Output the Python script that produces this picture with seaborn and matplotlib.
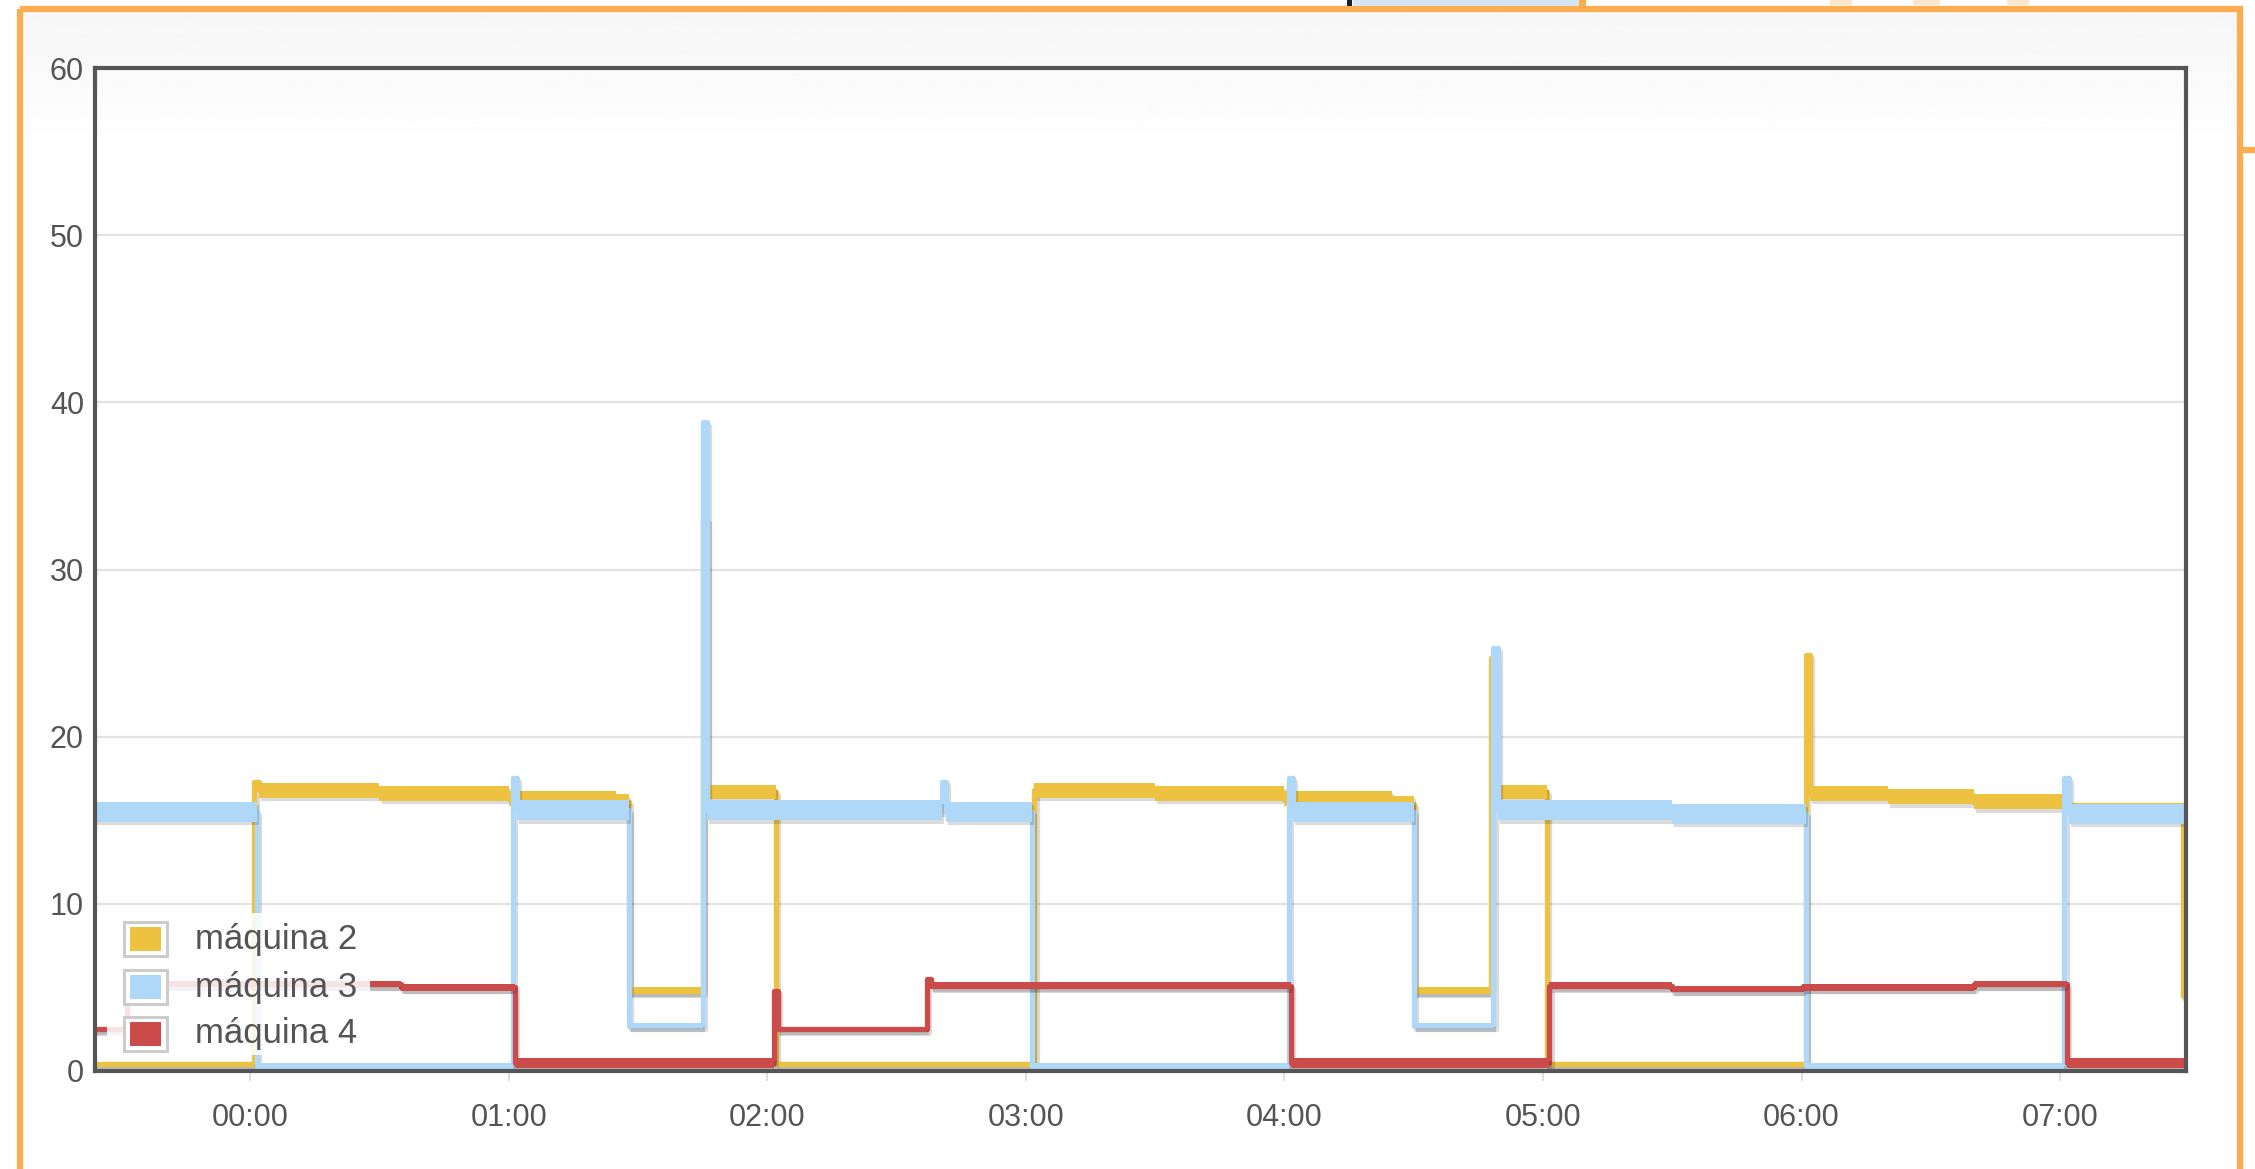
import numpy as np
import pandas as pd
import matplotlib
matplotlib.use("Agg")
import matplotlib.pyplot as plt
import matplotlib.patheffects as pe
from matplotlib.patches import Rectangle
from matplotlib.ticker import FixedLocator, FuncFormatter
import seaborn as sns

# time in minutes after midnight (negative = previous evening), step starts
m2_time = [-36, 1, 2, 30, 60, 85, 88, 105, 106, 122, 182, 210, 240, 265, 270,
           288, 289, 301, 361, 362, 380, 400, 421, 448.5, 449.5]
m2_value = [0.4, 17.3, 16.8, 16.6, 16.3, 16.1, 4.8, 33.0, 16.7, 0.4, 16.8, 16.6,
            16.3, 16.0, 4.8, 24.7, 16.7, 0.4, 24.9, 16.6, 16.4, 16.1, 15.9, 4.5, 4.5]
# height of the noise band around each level
m2_spread = [0.3, 0, 0.9, 0.9, 0.9, 0.9, 0.4, 0, 0.8, 0.3, 0.9, 0.9, 0.9, 0.9,
             0.4, 0, 0.8, 0.3, 0, 0.9, 0.9, 0.9, 0.3, 0, 0]

m3_time = [-36, 1.5, 61, 62, 88, 105, 106, 160.5, 161.5, 181.5, 241, 242, 270,
           288.5, 289.5, 330, 361, 421, 422, 449.5]
m3_value = [15.5, 0.3, 17.5, 15.6, 2.7, 38.8, 15.6, 17.3, 15.5, 0.3, 17.5, 15.5,
            2.7, 25.3, 15.6, 15.4, 0.3, 17.5, 15.4, 15.4]
m3_spread = [1.2, 0.4, 0, 1.2, 0.3, 0, 1.2, 0, 1.2, 0.4, 0, 1.2, 0.3, 0, 1.2,
             1.2, 0.4, 0, 1.2, 1.2]

m4_time = [-36, -28.5, 35, 61.5, 121.5, 122.5, 157, 158, 241.5, 301.5, 330, 360,
           400, 421.5, 449.5]
m4_value = [2.5, 5.2, 5.0, 0.5, 4.8, 2.5, 5.5, 5.1, 0.5, 5.1, 4.9, 5.0, 5.2, 0.5, 0.5]
m4_spread = [0.3, 0.4, 0.4, 0.6, 0, 0.3, 0, 0.4, 0.6, 0.4, 0.4, 0.4, 0.4, 0.6, 0.6]

names = ["máquina 2", "máquina 3", "máquina 4"]
colors = ["#edc240", "#afd8f8", "#cb4b4b"]
y_ticks = [0, 10, 20, 30, 40, 50, 60]
x_ticks = [0, 60, 120, 180, 240, 300, 360, 420]

series = [(m2_time, m2_value, m2_spread),
          (m3_time, m3_value, m3_spread),
          (m4_time, m4_value, m4_spread)]

frames = []
for name, (t, v, s) in zip(names, series):
    frames.append(pd.DataFrame({"minuto": t, "valor": v, "spread": s, "serie": name}))
df = pd.concat(frames, ignore_index=True)

sns.set_theme(style="white")
plt.rcParams["font.family"] = ["Liberation Sans", "DejaVu Sans"]
text_color = "#545454"

fig = plt.figure(figsize=(22.55, 11.69), dpi=100)

# page background: orange framed panel with a soft gray gradient at the top
bg = fig.add_axes([0, 0, 1, 1], zorder=-5)
bg.set_xlim(0, 2255)
bg.set_ylim(1169, 0)
bg.axis("off")
grad = np.linspace(0.965, 1.0, 64)[:, None]
bg.imshow(grad, extent=(20, 2240, 150, 9), cmap="gray", vmin=0, vmax=1,
          aspect="auto", interpolation="bilinear")
bg.add_patch(Rectangle((20, 9), 2220, 1300, fill=False, ec="#fbad50", lw=4.5))
bg.plot([2240, 2255], [150, 150], color="#fbad50", lw=4.5, solid_capstyle="butt")
bg.add_patch(Rectangle((1353, -5), 226, 11, fc="#d6e6f4", ec="none"))
bg.add_patch(Rectangle((1347, -5), 5, 11, fc="#18222e", ec="none"))
bg.add_patch(Rectangle((1579, -5), 7, 11, fc="#fbad50", ec="none"))
for x0, w in [(1830, 22), (1913, 27), (2007, 22)]:
    bg.add_patch(Rectangle((x0, -5), w, 10, fc="#fde6cc", ec="none"))

ax = fig.add_axes([95 / 2255, 1 - 1071 / 1169, 2091 / 2255, 1003 / 1169])
ax.set_facecolor("none")

shadow = [pe.SimpleLineShadow(offset=(1.5, -2.5), shadow_color="black", alpha=0.14),
          pe.Normal()]
band_shadow = [pe.SimplePatchShadow(offset=(1.5, -2.5), shadow_rgbFace="black",
                                    alpha=0.14), pe.Normal()]

sns.lineplot(data=df, x="minuto", y="valor", hue="serie", hue_order=names,
             palette=dict(zip(names, colors)), drawstyle="steps-post",
             estimator=None, sort=False, lw=3.8, legend=False, ax=ax,
             path_effects=shadow)
for i, line in enumerate(ax.lines):
    line.set_zorder(3 + i)

# noise band on top of each line, same colour
for i, (name, color) in enumerate(zip(names, colors)):
    d = df[df["serie"] == name]
    band = ax.fill_between(d["minuto"], d["valor"] - d["spread"] / 2,
                           d["valor"] + d["spread"] / 2, step="post",
                           color=color, lw=0, zorder=3.5 + i)
    band.set_path_effects(band_shadow)

ax.set_xlim(-36, 449.2)
ax.set_ylim(0, 60)
ax.set_xlabel("")
ax.set_ylabel("")

ax.yaxis.set_major_locator(FixedLocator(y_ticks))
ax.xaxis.set_major_locator(FixedLocator(x_ticks))
ax.xaxis.set_major_formatter(FuncFormatter(lambda m, p: f"{int(m // 60):02d}:00"))
ax.yaxis.grid(True, color="#e3e3e3", lw=1.6)
ax.xaxis.grid(False)
ax.set_axisbelow(True)
ax.tick_params(axis="y", length=0, pad=8, labelsize=22, labelcolor=text_color)
ax.tick_params(axis="x", length=7, width=1.5, color="#dedede", direction="out",
               pad=16, labelsize=22, labelcolor=text_color, bottom=True)
for sp in ax.spines.values():
    sp.set_color("#555555")
    sp.set_linewidth(3)
    sp.set_zorder(10)

# flot style legend, lower left inside the plot
ax.add_patch(Rectangle((0.0057, 0.016), 0.126, 0.1415, transform=ax.transAxes,
                       fc="white", ec="none", alpha=0.85, zorder=20))
row_y = [0.1316, 0.0837, 0.0369]
for name, color, yy in zip(names, colors, row_y):
    ax.add_patch(Rectangle((0.0138, yy - 0.017), 0.0205, 0.034, transform=ax.transAxes,
                           fc="white", ec="#cccccc", lw=2.2, zorder=21))
    ax.add_patch(Rectangle((0.0167, yy - 0.012), 0.0148, 0.024, transform=ax.transAxes,
                           fc=color, ec="none", zorder=22))
    ax.text(0.048, yy, name, transform=ax.transAxes, ha="left", va="center",
            fontsize=25, color=text_color, zorder=23)

fig.savefig("out.png", dpi=100)
